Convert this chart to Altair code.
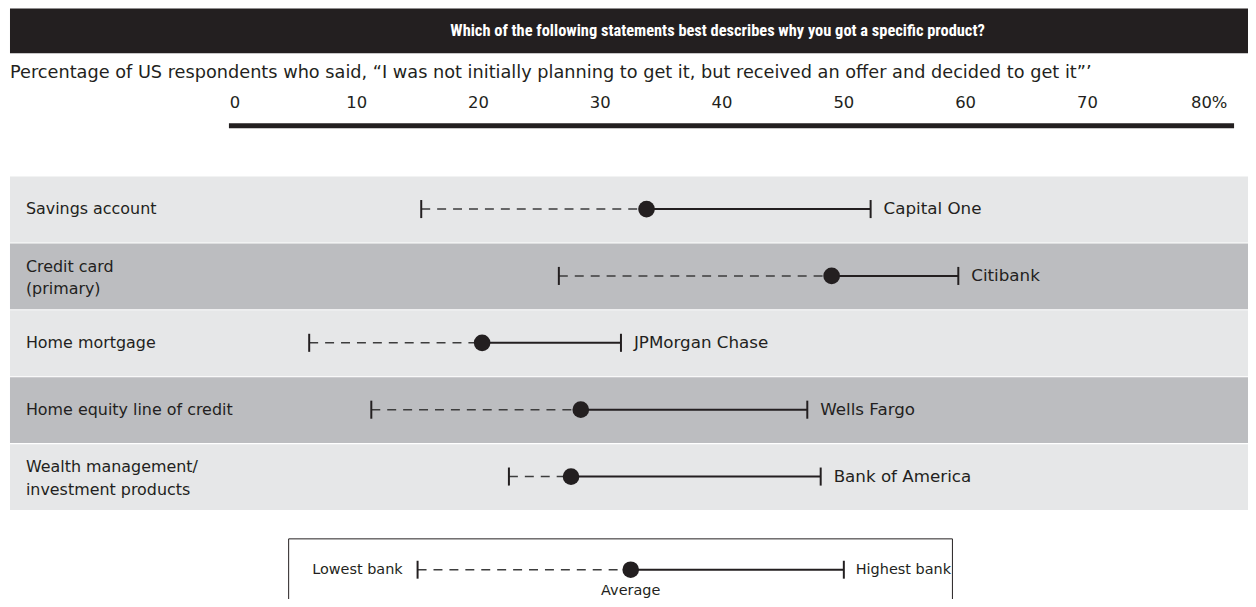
import altair as alt
import pandas as pd

# ---------------- data ----------------
products = ["Savings account", "Credit card\n(primary)", "Home mortgage",
            "Home equity line of credit", "Wealth management/\ninvestment products"]
lowest = [15.3, 26.6, 6.1, 11.2, 22.5]
average = [33.8, 49.0, 20.3, 28.4, 27.6]
highest = [52.2, 59.4, 31.7, 47.0, 48.1]
banks = ["Capital One", "Citibank", "JPMorgan Chase", "Wells Fargo", "Bank of America"]
shade = ["light", "dark", "light", "dark", "light"]

tick_values = [0, 10, 20, 30, 40, 50, 60, 70, 80]
tick_labels = ["0", "10", "20", "30", "40", "50", "60", "70", "80%"]

legend_low, legend_avg, legend_high = [15.0], [32.5], [50.0]

title_text = "Which of the following statements best describes why you got a specific product?"
subtitle_text = ("Percentage of US respondents who said, \u201cI was not initially planning to get it, "
                 "but received an offer and decided to get it\u201d\u2019")

# ---------------- styling ----------------
W, H = 1246, 591
FONT = "DejaVu Sans"
TITLE_FONT = "Roboto Condensed, Liberation Sans Narrow, Arial Narrow, sans-serif"
INK = "#231f20"
LIGHT, DARK = "#e6e7e8", "#bcbdc0"
LBL = 16

df = pd.DataFrame({
    "idx": list(range(len(products))),
    "product": products,
    "low": lowest,
    "avg": average,
    "high": highest,
    "bank": banks,
    "shade": shade,
})
ticks_df = pd.DataFrame({"v": tick_values, "label": tick_labels})
leg_df = pd.DataFrame({"low": legend_low, "avg": legend_avg, "high": legend_high})
one = pd.DataFrame({"a": [0]})

xs = alt.Scale(domain=[0, 80], range=[228, 1207], nice=False, zero=False)
ys = alt.Scale(domain=[0, 4], range=[200.6, 469.4], nice=False, zero=False)

base = alt.Chart(df)

title_bar = alt.Chart(one).mark_rect(color=INK).encode(
    x=alt.value(2), x2=alt.value(W), y=alt.value(-1), y2=alt.value(44))
title = alt.Chart(one).mark_text(
    text=title_text, font=TITLE_FONT, fontWeight="bold", fontSize=16.5, color="white",
    align="center", baseline="middle").encode(x=alt.value(713), y=alt.value(22))
subtitle = alt.Chart(one).mark_text(
    text=subtitle_text, font=FONT, fontSize=17.8, color=INK, align="left",
    baseline="middle").encode(x=alt.value(2), y=alt.value(64))

tick_text = alt.Chart(ticks_df).mark_text(
    font=FONT, fontSize=16.5, color=INK, align="center", baseline="alphabetic").encode(
    x=alt.X("v:Q", scale=xs, axis=None), y=alt.value(99), text="label:N")
axis_line = alt.Chart(one).mark_rule(color=INK, strokeWidth=5).encode(
    x=alt.value(222), x2=alt.value(1232), y=alt.value(117))

bg = base.transform_calculate(
    top="datum.idx - 0.485", bot="datum.idx + 0.5").mark_rect().encode(
    x=alt.value(2), x2=alt.value(W),
    y=alt.Y("top:Q", scale=ys, axis=None), y2="bot:Q",
    color=alt.Color("shade:N", scale=alt.Scale(domain=["light", "dark"], range=[LIGHT, DARK]),
                    legend=None))

row_labels = base.transform_calculate(
    ly="datum.idx - (indexof(datum.product, '\\n') >= 0 ? 0.14 : 0)").mark_text(
    font=FONT, fontSize=LBL, color=INK, align="left", baseline="middle",
    lineBreak="\n", lineHeight=23).encode(
    x=alt.value(18), y=alt.Y("ly:Q", scale=ys, axis=None), text="product:N")

dashed = base.mark_rule(color="#3d3d3d", strokeWidth=1.5, strokeDash=[9, 7]).encode(
    x=alt.X("low:Q", scale=xs, axis=None), x2="avg:Q",
    y=alt.Y("idx:Q", scale=ys, axis=None))
solid = base.mark_rule(color=INK, strokeWidth=2).encode(
    x=alt.X("avg:Q", scale=xs, axis=None), x2="high:Q",
    y=alt.Y("idx:Q", scale=ys, axis=None))
caps = base.transform_fold(["low", "high"], as_=["end", "val"]).transform_calculate(
    t="datum.idx - 0.135", b="datum.idx + 0.135").mark_rule(color=INK, strokeWidth=2).encode(
    x=alt.X("val:Q", scale=xs, axis=None),
    y=alt.Y("t:Q", scale=ys, axis=None), y2="b:Q")
dots = base.mark_point(shape="circle", filled=True, opacity=1, color=INK, size=280).encode(
    x=alt.X("avg:Q", scale=xs, axis=None), y=alt.Y("idx:Q", scale=ys, axis=None))
bank_text = base.mark_text(
    font=FONT, fontSize=16.8, color=INK, align="left", baseline="middle", dx=13).encode(
    x=alt.X("high:Q", scale=xs, axis=None), y=alt.Y("idx:Q", scale=ys, axis=None),
    text="bank:N")

# legend
LY = 563
LEG = 14.5
leg = alt.Chart(leg_df)
leg_box = alt.Chart(one).mark_rect(fill="white", stroke=INK, strokeWidth=1).encode(
    x=alt.value(282), x2=alt.value(949), y=alt.value(532), y2=alt.value(640))
leg_dash = leg.mark_rule(color="#3d3d3d", strokeWidth=1.5, strokeDash=[9, 7]).encode(
    x=alt.X("low:Q", scale=xs, axis=None), x2="avg:Q", y=alt.value(LY))
leg_solid = leg.mark_rule(color=INK, strokeWidth=2).encode(
    x=alt.X("avg:Q", scale=xs, axis=None), x2="high:Q", y=alt.value(LY))
leg_caps = leg.transform_fold(["low", "high"], as_=["end", "val"]).mark_rule(
    color=INK, strokeWidth=2).encode(
    x=alt.X("val:Q", scale=xs, axis=None), y=alt.value(LY - 9), y2=alt.value(LY + 9))
leg_dot = leg.mark_point(shape="circle", filled=True, opacity=1, color=INK, size=280).encode(
    x=alt.X("avg:Q", scale=xs, axis=None), y=alt.value(LY))
leg_low_t = leg.mark_text(text="Lowest bank", font=FONT, fontSize=LEG, color=INK,
                          align="right", baseline="middle", dx=-15).encode(
    x=alt.X("low:Q", scale=xs, axis=None), y=alt.value(LY))
leg_high_t = leg.mark_text(text="Highest bank", font=FONT, fontSize=LEG, color=INK,
                           align="left", baseline="middle", dx=12).encode(
    x=alt.X("high:Q", scale=xs, axis=None), y=alt.value(LY))
leg_avg_t = leg.mark_text(text="Average", font=FONT, fontSize=LEG, color=INK,
                          align="center", baseline="middle").encode(
    x=alt.X("avg:Q", scale=xs, axis=None), y=alt.value(LY + 21))

chart = alt.layer(
    title_bar, title, subtitle, tick_text, axis_line,
    bg, row_labels, dashed, solid, caps, dots, bank_text,
    leg_box, leg_dash, leg_solid, leg_caps, leg_dot, leg_low_t, leg_high_t, leg_avg_t,
).properties(
    width=W, height=H, padding=0,
    autosize=alt.AutoSizeParams(type="none"),
).configure_view(stroke=None)

chart.save("out.html", embed_options={"renderer": "svg", "actions": False})
